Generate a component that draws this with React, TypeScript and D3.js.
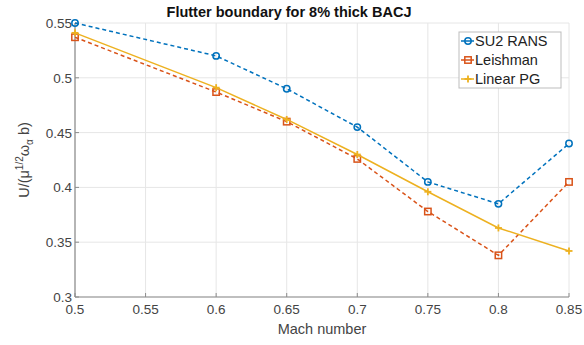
import React from "react";
import * as d3 from "d3";

const mach = [0.5, 0.6, 0.65, 0.7, 0.75, 0.8, 0.85];
const su2 = [0.55, 0.52, 0.49, 0.455, 0.405, 0.385, 0.44];
const leishman = [0.537, 0.487, 0.46, 0.426, 0.378, 0.338, 0.405];
const linearPG = [0.541, 0.491, 0.462, 0.43, 0.396, 0.363, 0.342];
const xTicks = [0.5, 0.55, 0.6, 0.65, 0.7, 0.75, 0.8, 0.85];
const yTicks = [0.3, 0.35, 0.4, 0.45, 0.5, 0.55];
const seriesNames = ["SU2 RANS", "Leishman", "Linear PG"];

const W = 584, H = 345;
const L = 75, R = 569, T = 23, B = 297;
const FONT = "'Liberation Sans', Arial, Helvetica, sans-serif";

export default function App() {
  const x = d3.scaleLinear().domain([0.5, 0.85]).range([L, R]);
  const y = d3.scaleLinear().domain([0.3, 0.55]).range([B, T]);
  const line = d3.line<number>().x((_, i) => x(mach[i])).y((d) => y(d));
  const colors = ["#0072BD", "#D95319", "#EDB120"];
  const data = [su2, leishman, linearPG];
  const dashes = ["4,3", "4,3", null];

  const marker = (k: number, cx: number, cy: number, key: string) => {
    const c = colors[k];
    if (k === 0) return <circle key={key} cx={cx} cy={cy} r={3.2} fill="none" stroke={c} strokeWidth={1.5} />;
    if (k === 1) return <rect key={key} x={cx - 3.2} y={cy - 3.2} width={6.4} height={6.4} fill="none" stroke={c} strokeWidth={1.5} />;
    return (
      <g key={key} stroke={c} strokeWidth={1.8}>
        <line x1={cx - 3.5} x2={cx + 3.5} y1={cy} y2={cy} />
        <line x1={cx} x2={cx} y1={cy - 3.5} y2={cy + 3.5} />
      </g>
    );
  };

  return (
    <svg width={W} height={H} style={{ position: "absolute", left: 0, top: 0, background: "#fff" }} fontFamily={FONT}>
      <rect width={W} height={H} fill="#fff" />
      {xTicks.map((t) => (
        <line key={"gx" + t} x1={x(t)} x2={x(t)} y1={T} y2={B} stroke="#e6e6e6" strokeWidth={1} />
      ))}
      {yTicks.map((t) => (
        <line key={"gy" + t} x1={L} x2={R} y1={y(t)} y2={y(t)} stroke="#e6e6e6" strokeWidth={1} />
      ))}
      <line x1={L} x2={L} y1={T} y2={B} stroke="#8c8c8c" strokeWidth={1.2} />
      <line x1={L} x2={R} y1={B} y2={B} stroke="#8c8c8c" strokeWidth={1.2} />
      {xTicks.map((t) => (
        <g key={"xt" + t}>
          <line x1={x(t)} x2={x(t)} y1={B} y2={B - 4} stroke="#8c8c8c" />
          <text x={x(t)} y={B + 17} textAnchor="middle" fontSize={13.5} fill="#444">{String(t)}</text>
        </g>
      ))}
      {yTicks.map((t) => (
        <g key={"yt" + t}>
          <line x1={L} x2={L + 4} y1={y(t)} y2={y(t)} stroke="#8c8c8c" />
          <text x={L - 3} y={y(t) + 5} textAnchor="end" fontSize={13.5} fill="#444">{String(t)}</text>
        </g>
      ))}
      {data.map((s, k) => (
        <g key={"s" + k}>
          <path d={line(s) || ""} fill="none" stroke={colors[k]} strokeWidth={1.5} strokeDasharray={dashes[k] || undefined} />
          {s.map((v, i) => marker(k, x(mach[i]), y(v), "m" + k + "-" + i))}
        </g>
      ))}
      <text x={289} y={17} textAnchor="middle" fontSize={14.5} fontWeight="bold" fill="#111">Flutter boundary for 8% thick BACJ</text>
      <text x={322} y={334} textAnchor="middle" fontSize={14.5} fill="#444">Mach number</text>
      <text transform={`translate(29,${(T + B) / 2}) rotate(-90)`} textAnchor="middle" fontSize={14.5} fill="#444">
        <tspan>U/(μ</tspan>
        <tspan fontSize={10} dy={-6}>1/2</tspan>
        <tspan dy={6}>ω</tspan>
        <tspan fontSize={10} dy={4}>α</tspan>
        <tspan dy={-4}> b)</tspan>
      </text>
      <rect x={459} y={32} width={102} height={56} fill="#fff" stroke="#bdbdbd" strokeWidth={1} />
      {seriesNames.map((n, k) => {
        const ly = 41 + k * 19;
        return (
          <g key={"lg" + k}>
            <line x1={461} x2={474} y1={ly} y2={ly} stroke={colors[k]} strokeWidth={1.5} />
            {marker(k, 468, ly, "lm" + k)}
            <text x={475} y={ly + 5} fontSize={14.5} fill="#222">{n}</text>
          </g>
        );
      })}
    </svg>
  );
}
